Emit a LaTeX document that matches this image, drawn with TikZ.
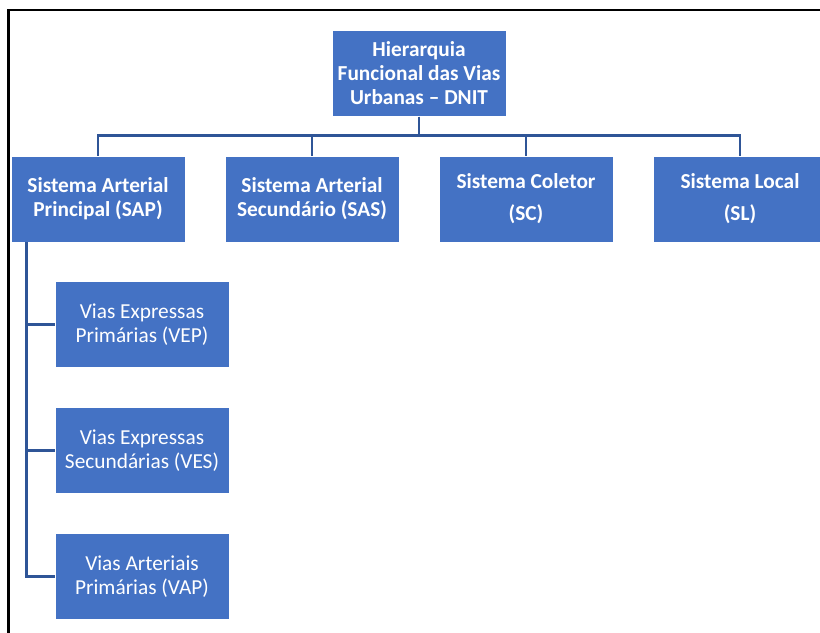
\documentclass[tikz,border=0pt]{standalone}
\usepackage{fontspec}
\setmainfont{Carlito}
\usetikzlibrary{calc}
\definecolor{boxblue}{HTML}{4472C4}
\definecolor{linkblue}{HTML}{2F5597}
\tikzset{
  box/.style={fill=boxblue, draw=white, line width=0.5pt, minimum width=130.5pt, minimum height=64.5pt,
    inner sep=0pt, text=white, align=center},
  topbox/.style={box, font=\fontsize{16}{18}\selectfont\bfseries},
  subbox/.style={box, font=\fontsize{16}{18}\selectfont},
  conn/.style={draw=linkblue, line width=2.2pt},
  frameline/.style={draw=black, line width=1.6pt}
}
\begin{document}
\begin{tikzpicture}[x=0.75pt, y=-0.75pt]
\useasboundingbox (0,0) rectangle (820,632);
\clip (0,0) rectangle (820,632);
% frame
\draw[frameline] (820,10) -- (8.5,10) -- (8.5,640);
% nodes
\node[topbox] (top) at (419,73.5) {Hierarquia\\Funcional das Vias\\Urbanas -- DNIT};
\node[topbox] (sap) at (98,199) {Sistema Arterial\\Principal (SAP)};
\node[topbox] (sas) at (312,199) {Sistema Arterial\\Secundário (SAS)};
\node[topbox] (sc) at (526,199) {Sistema Coletor\\[6pt](SC)};
\node[topbox] (sl) at (740,199) {Sistema Local\\[6pt](SL)};
\node[subbox] (vep) at (142,324.5) {Vias Expressas\\Primárias (VEP)};
\node[subbox] (ves) at (142,450.5) {Vias Expressas\\Secundárias (VES)};
\node[subbox] (vap) at (142,576.5) {Vias Arteriais\\Primárias (VAP)};
% connectors
\draw[conn] (top.south) -- ++(0,19) -| (sap.north);
\draw[conn] (top.south) -- ++(0,19) -| (sas.north);
\draw[conn] (top.south) -- ++(0,19) -| (sc.north);
\draw[conn] (top.south) -- ++(0,19) -| (sl.north);
\draw[conn] ($(sap.south west)+(16,0)$) |- (vep.west);
\draw[conn] ($(sap.south west)+(16,0)$) |- (ves.west);
\draw[conn] ($(sap.south west)+(16,0)$) |- (vap.west);
\end{tikzpicture}
\end{document}
